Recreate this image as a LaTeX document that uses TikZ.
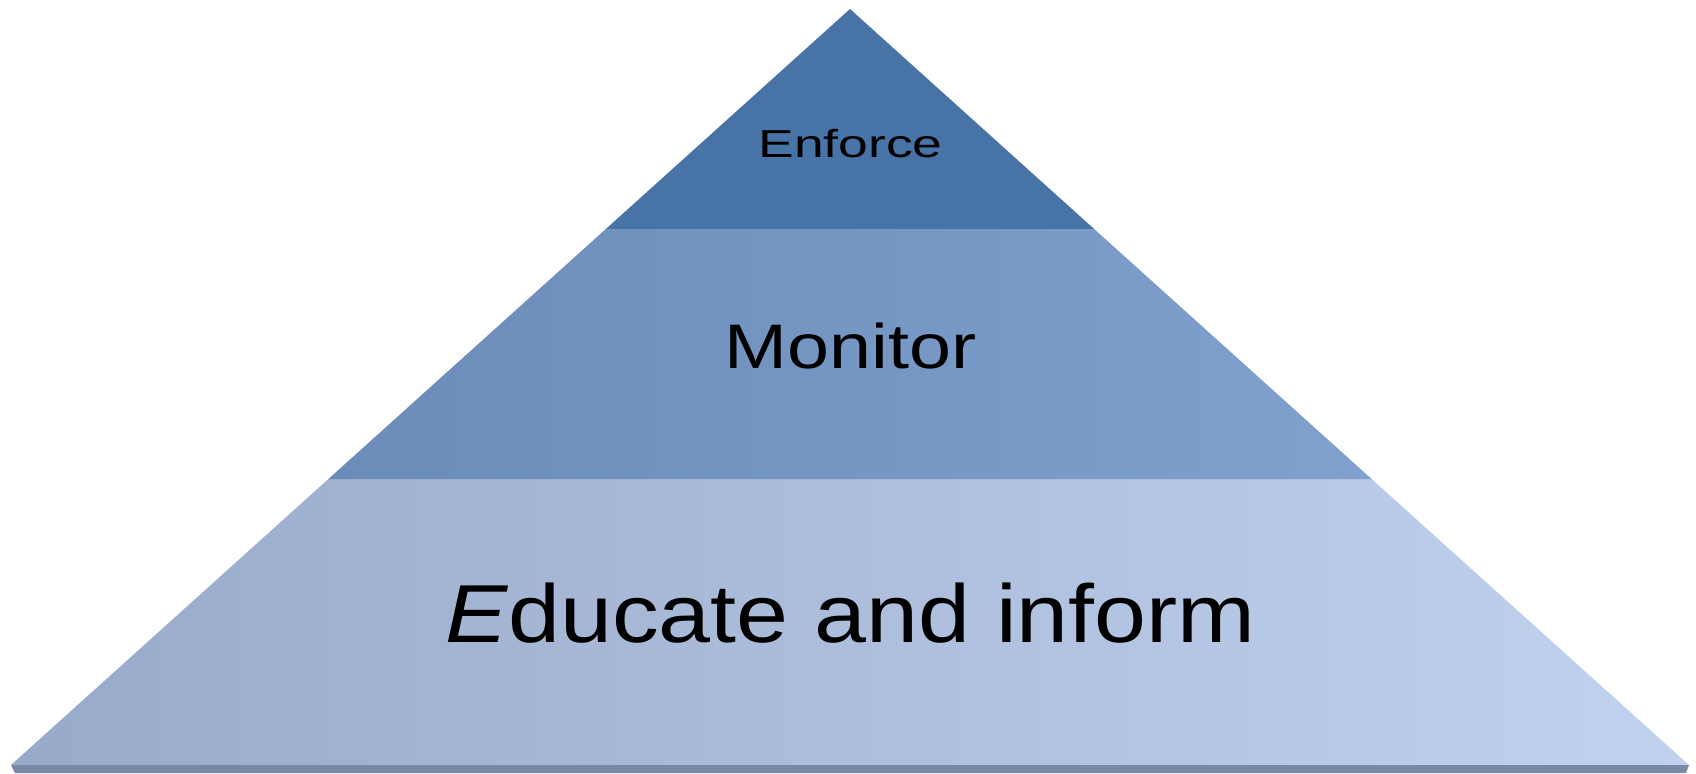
\documentclass[tikz,border=0pt]{standalone}
\usepackage{fontspec}
\setmainfont{Liberation Sans}
\usetikzlibrary{calc}

\definecolor{enforcefill}{HTML}{4773A7}
\definecolor{monitorleft}{HTML}{6B8CB8}
\definecolor{monitorright}{HTML}{80A1CE}
\definecolor{educateleft}{HTML}{98AAC9}
\definecolor{educateright}{HTML}{C1D2EF}
\definecolor{baseedge}{HTML}{7888A6}

\tikzset{
  tierlabel/.style={anchor=base, text=black, inner sep=0pt}
}

\begin{document}
\begin{tikzpicture}
% Canvas (1 px = 0.01 cm)
\useasboundingbox (0,0) rectangle (16.96,7.73);

% Pyramid corners
\coordinate (apex) at (8.50,7.64);
\coordinate (baseL) at (0.11,0.08);
\coordinate (baseR) at (16.89,0.08);

% Tier borders
\coordinate (lowL) at ($(baseL)!0.3783!(apex)$);
\coordinate (lowR) at ($(baseR)!0.3783!(apex)$);
\coordinate (topL) at ($(baseL)!0.709!(apex)$);
\coordinate (topR) at ($(baseR)!0.709!(apex)$);

% Base edge
\fill[baseedge] (baseL) -- (baseR) -- (16.86,0) -- (0.15,0) -- cycle;

% Tiers
\shade[left color=educateleft, right color=educateright] (baseL) -- (baseR) -- (lowR) -- (lowL) -- cycle;
\shade[left color=monitorleft, right color=monitorright] (lowL) -- (lowR) -- (topR) -- (topL) -- cycle;
\fill[enforcefill] (topL) -- (topR) -- (apex) -- cycle;

% Labels
\node[tierlabel, font=\fontsize{11.1}{13}\selectfont] (enforce) at (8.505,6.15) {\scalebox{1.37}[1]{Enforce}};
\node[tierlabel, font=\fontsize{17.9}{21}\selectfont] (monitor) at (8.505,4.04) {\scalebox{1.2}[1]{Monitor}};
\node[tierlabel, font=\fontsize{23.4}{28}\selectfont] (educate) at (8.505,1.30) {\scalebox{1.135}[1]{\textit{E}ducate and inform}};
\end{tikzpicture}
\end{document}
